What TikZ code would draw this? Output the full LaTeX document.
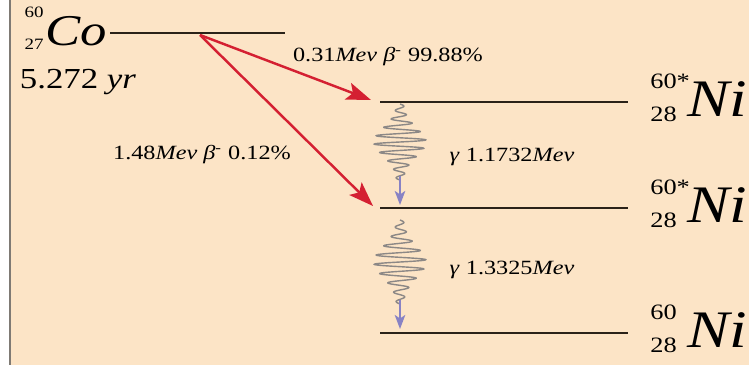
\documentclass[tikz,border=0pt]{standalone}
\usepackage{fontspec}
\setmainfont{Liberation Serif}
\usetikzlibrary{arrows.meta}
\definecolor{peach}{HTML}{FCE4C6}
\definecolor{betared}{HTML}{D42032}
\definecolor{levelink}{HTML}{2A2218}
\definecolor{gammablue}{HTML}{8882C4}
\definecolor{wavegray}{HTML}{8C8886}
\newcommand{\wider}[1]{\scalebox{1.2}[1]{#1}}
\tikzset{
  level/.style={levelink,line width=1.4pt},
  beta/.style={betared,line width=1.4pt,-{Stealth[length=14pt,width=10pt,inset=3pt]}},
  gammaline/.style={gammablue,line width=1pt,-{Stealth[length=8pt,width=6pt,inset=2pt]}},
  wave/.style={wavegray,line width=0.8pt},
  tag/.style={inner sep=0pt,font=\fontsize{11.5}{13}\selectfont},
  elem/.style={inner sep=0pt,font=\fontsize{25}{27}\selectfont\itshape},
  nucnum/.style={inner sep=0pt,font=\fontsize{9}{10}\selectfont},
  ninum/.style={inner sep=0pt,anchor=west,font=\fontsize{12.5}{14}\selectfont},
}
\begin{document}
\begin{tikzpicture}[x=0.02cm,y=-0.02cm]
\useasboundingbox (0,0) rectangle (749,365);
% paper and left rule
\fill[white] (0,0) rectangle (10,365);
\fill[peach] (10,0) rectangle (749,365);
\draw[levelink!60,line width=1.2pt] (10,0) -- (10,365);
% parent level
\node[nucnum] (co-a) at (34,12) {\wider{60}};
\node[nucnum] (co-z) at (34,44) {\wider{27}};
\node[elem] (co) at (76,31) {\wider{Co}};
\node[inner sep=0pt,font=\fontsize{16.5}{18}\selectfont] (half) at (78,82) {\wider{5.272 \textit{yr}}};
\coordinate (co-l) at (110,33); \coordinate (co-r) at (285,33);
\draw[level] (co-l) -- (co-r);
% daughter levels
\foreach \n/\y in {ni1/102,ni2/208,ni3/333}
  \draw[level] (380,\y) coordinate (\n-l) -- (628,\y) coordinate (\n-r);
\foreach \n/\y/\a in {ni1/99/60*,ni2/205/60*,ni3/330/60} {
  \node[ninum] (\n-a) at (650,\y-18) {\wider{\a}};
  \node[ninum] (\n-z) at (650,\y+15) {\wider{28}};
  \node[elem,font=\fontsize{30}{32}\selectfont\itshape,anchor=west] (\n) at (687,\y) {\wider{Ni}};
}
% beta branches
\coordinate (src) at (200,35);
\coordinate (tip1) at (371,100);
\coordinate (tip2) at (373,206);
\draw[beta] (src) -- (tip1);
\draw[beta] (src) -- (tip2);
\node[tag] (b1) at (388,57) {\wider{0.31\textit{Mev} \textit{β}\textsuperscript{-} 99.88\%}};
\node[tag] (b2) at (202,155) {\wider{1.48\textit{Mev} \textit{β}\textsuperscript{-} 0.12\%}};
% gamma transitions
\foreach \g/\ya/\yb/\yc in {g1/104/180/205,g2/220/304/329} {
  \draw[wave] plot[domain=0:1,samples=360,smooth]
    ({400+(3+23*exp(-((\x-0.5)/0.26)^2))*sin(\x*3240)},{\ya+\x*(\yb-\ya)});
  \coordinate (\g-s) at (400,\yb-4); \coordinate (\g-e) at (400,\yc);
  \draw[gammaline] (\g-s) -- (\g-e);
}
\node[tag] (g1) at (512,157) {\wider{\textit{γ} 1.1732\textit{Mev}}};
\node[tag] (g2) at (512,270) {\wider{\textit{γ} 1.3325\textit{Mev}}};
\end{tikzpicture}
\end{document}
